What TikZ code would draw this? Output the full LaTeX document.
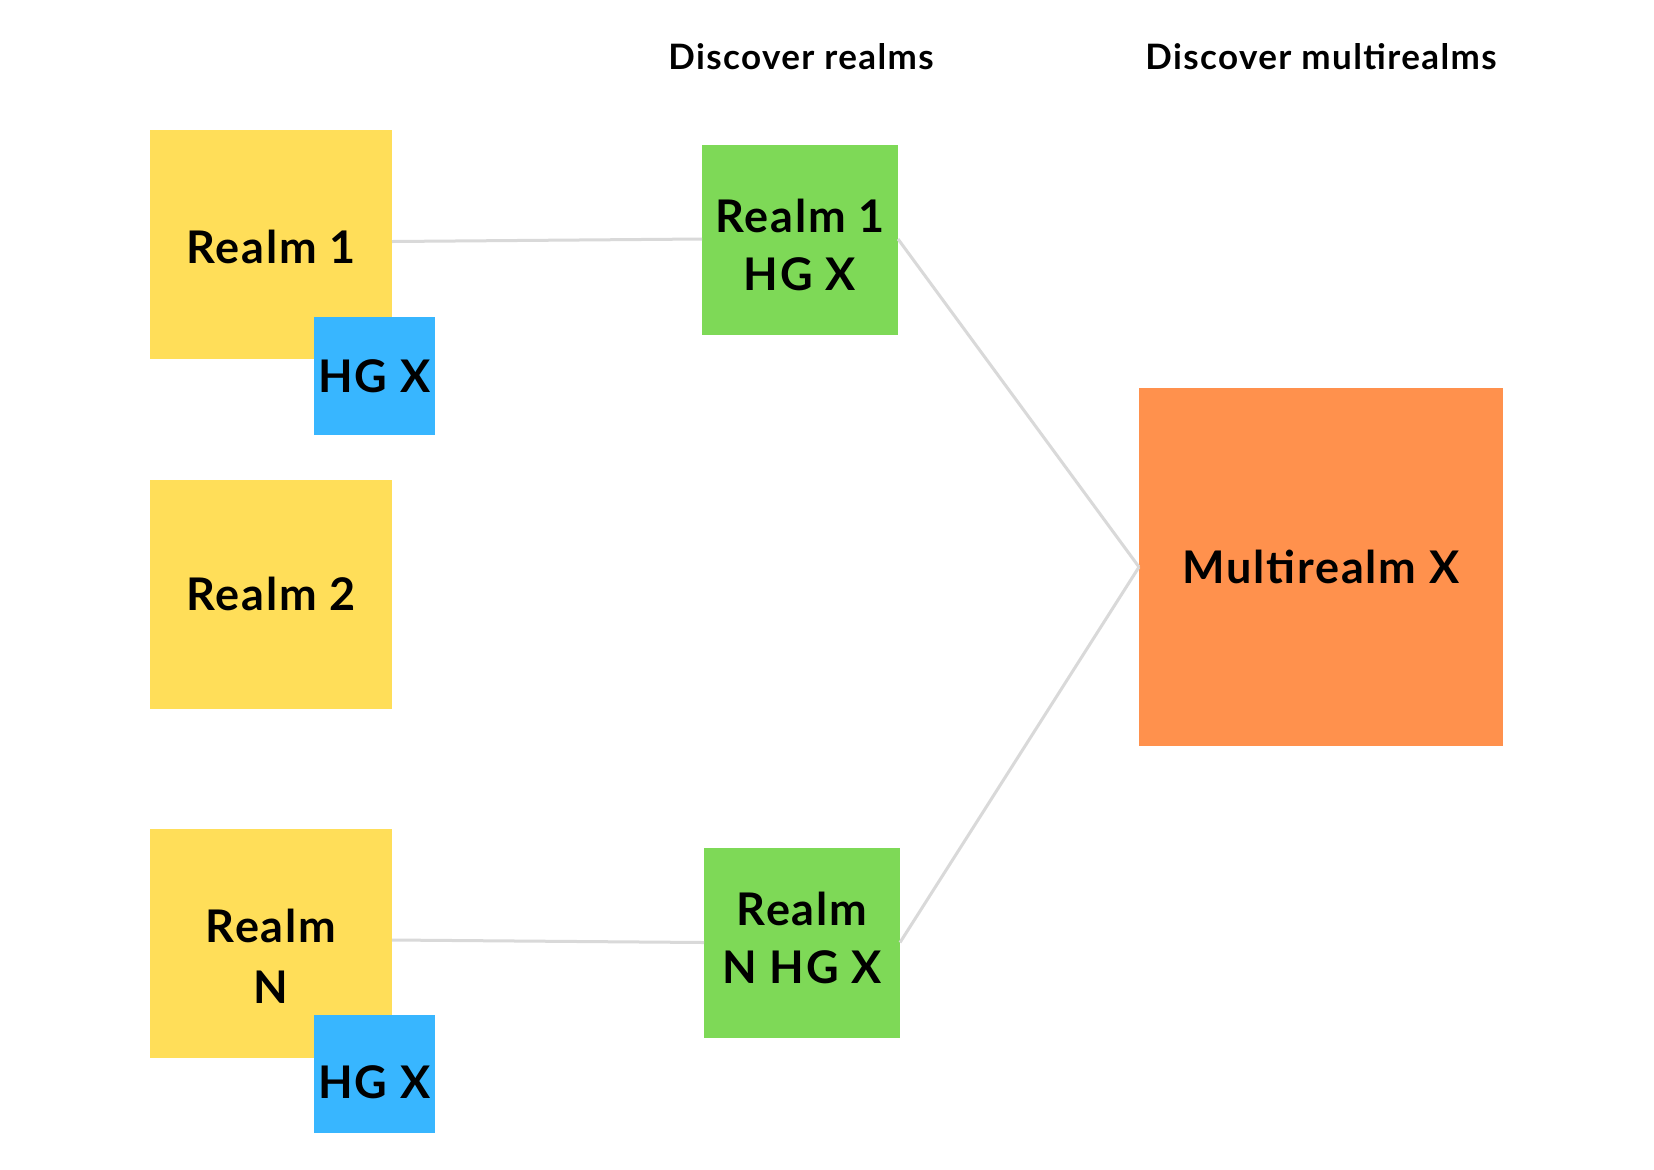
\documentclass[tikz,border=0pt]{standalone}
\usepackage{fontspec}
\setmainfont{Lato}[LetterSpace=4]
\definecolor{cyellow}{HTML}{FFDE59}
\definecolor{cblue}{HTML}{38B6FF}
\definecolor{cgreen}{HTML}{7ED957}
\definecolor{corange}{HTML}{FF914D}
\definecolor{cline}{HTML}{D9D9D9}
\begin{document}
\begin{tikzpicture}[x=0.5pt,y=-0.5pt,
  box/.style={rectangle, inner sep=0pt, outer sep=0pt, align=center,
    font=\fontsize{22.5}{29}\selectfont\bfseries},
  txt/.style={inner sep=0pt, align=center, font=\fontsize{22.5}{29}\selectfont\bfseries},
  realm/.style={box, fill=cyellow, minimum width=121pt, minimum height=114.5pt},
  hg/.style={box, fill=cblue, minimum width=60.5pt, minimum height=59pt},
  found/.style={box, fill=cgreen, minimum width=98pt, minimum height=95pt},
  multi/.style={box, fill=corange, minimum width=182pt, minimum height=179pt},
  header/.style={font=\fontsize{17.5}{20}\selectfont\bfseries, inner sep=0pt},
  conn/.style={draw=cline, line width=1.5pt}
]
\useasboundingbox[fill=white] (0,0) rectangle (1654,1169);

\node[header] (h1) at (801,57) {Discover realms};
\node[header] (h2) at (1321,57) {Discover multirealms};

\node[realm] (r1) at (271,244.5) {};
\node[txt] (r1t) at (271,247) {Realm 1};
\node[hg] (b1) at (374.5,376) {HG X};
\node[realm] (r2) at (271,594) {Realm 2};
\node[realm] (rn) at (271,943) {};
\node[txt, font=\fontsize{22.5}{30.5}\selectfont\bfseries] (rnt) at (271,956) {Realm\\N};
\node[hg] (b2) at (374.5,1074) {};
\node[txt] (b2t) at (374.5,1082) {HG X};

\node[found] (g1) at (800,240) {};
\node[txt] (g1t) at (800,245) {Realm 1\\HG X};
\node[found] (g2) at (802,942.5) {};
\node[txt] (g2t) at (802,938) {Realm\\N HG X};

\node[multi] (m) at (1321,567) {Multirealm X};

\draw[conn] ([yshift=1.5pt]r1.east) -- ([yshift=0.5pt]g1.west);
\draw[conn] ([yshift=1.5pt]rn.east) -- (g2.west);
\draw[conn] ([yshift=0.5pt]g1.east) -- (m.west);
\draw[conn] (g2.east) -- (m.west);
\end{tikzpicture}
\end{document}
